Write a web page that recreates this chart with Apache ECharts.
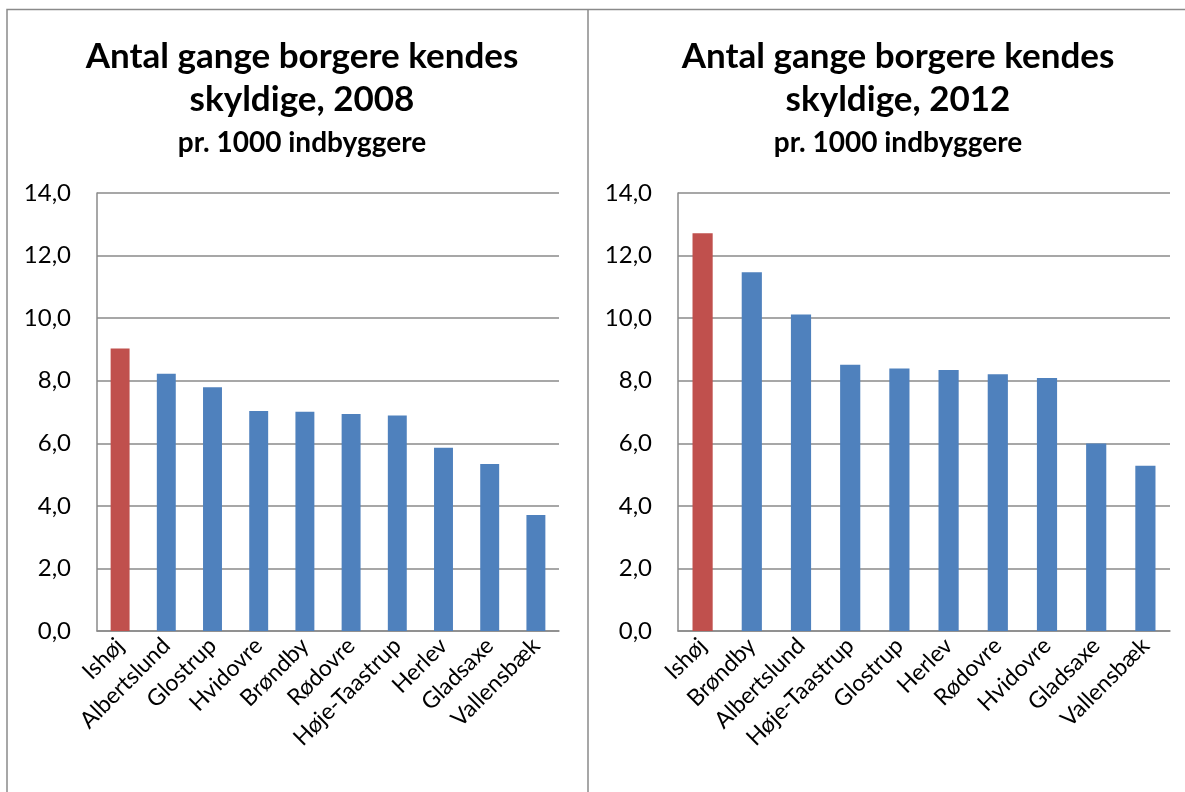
<!DOCTYPE html>
<html>
<head>
<meta charset="utf-8">
<script src="https://cdn.jsdelivr.net/npm/echarts@6/dist/echarts.min.js"></script>
<style>
  html, body { margin: 0; padding: 0; background: #fff; }
  #container { width: 1185px; height: 792px; }
</style>
</head>
<body>
<div id="container"></div>
<script>
var cat2008 = ['Ishøj', 'Albertslund', 'Glostrup', 'Hvidovre', 'Brøndby', 'Rødovre', 'Høje-Taastrup', 'Herlev', 'Gladsaxe', 'Vallensbæk'];
var val2008 = [9.03, 8.22, 7.79, 7.03, 7.01, 6.94, 6.89, 5.86, 5.34, 3.71];
var cat2012 = ['Ishøj', 'Brøndby', 'Albertslund', 'Høje-Taastrup', 'Glostrup', 'Herlev', 'Rødovre', 'Hvidovre', 'Gladsaxe', 'Vallensbæk'];
var val2012 = [12.71, 11.47, 10.12, 8.51, 8.39, 8.34, 8.21, 8.09, 5.99, 5.28];
var highlight = 'Ishøj';

var dom = document.getElementById('container');
var myChart = echarts.init(dom);
var font = 'Lato';
var gridColor = '#8a8a8a';

function barData(cats, vals) {
    return vals.map(function (v, i) {
        return {
            value: v,
            itemStyle: { color: cats[i] === highlight ? '#C0504D' : '#4F81BD' }
        };
    });
}

function xAxisOf(idx, cats) {
    return {
        type: 'category',
        gridIndex: idx,
        data: cats,
        axisTick: { show: false },
        axisLine: { lineStyle: { color: gridColor, width: 1.5 } },
        axisLabel: { rotate: 45, interval: 0, margin: 11, fontFamily: font, fontSize: 23, color: '#000' }
    };
}

function yAxisOf(idx, margin) {
    return {
        type: 'value',
        gridIndex: idx,
        min: 0,
        max: 14,
        interval: 2,
        axisTick: { show: false },
        axisLine: { show: true, lineStyle: { color: gridColor, width: 1.5 } },
        splitLine: { lineStyle: { color: gridColor, width: 1.5 } },
        axisLabel: {
            margin: margin, fontFamily: font, fontSize: 24, color: '#000',
            formatter: function (v) { return v.toFixed(1).replace('.', ','); }
        }
    };
}

function titleOf(x, text, sub) {
    return [
        {
            text: text, left: x, top: 30, textAlign: 'center',
            textStyle: { fontFamily: font, fontSize: 35, fontWeight: 'bold', lineHeight: 43, color: '#000' }
        },
        {
            text: sub, left: x, top: 123, textAlign: 'center',
            textStyle: { fontFamily: font, fontSize: 28, fontWeight: 'bold', lineHeight: 30, color: '#000' }
        }
    ];
}

var option = {
    animation: false,
    title: titleOf(297, 'Antal gange borgere kendes\nskyldige, 2008', 'pr. 1000 indbyggere')
        .concat(titleOf(893, 'Antal gange borgere kendes\nskyldige, 2012', 'pr. 1000 indbyggere')),
    grid: [
        { left: 97, right: 626, top: 193, bottom: 161 },
        { left: 678, right: 15, top: 193, bottom: 161 }
    ],
    xAxis: [xAxisOf(0, cat2008), xAxisOf(1, cat2012)],
    yAxis: [yAxisOf(0, 26), yAxisOf(1, 26)],
    series: [
        { type: 'bar', xAxisIndex: 0, yAxisIndex: 0, barWidth: '41%', data: barData(cat2008, val2008) },
        { type: 'bar', xAxisIndex: 1, yAxisIndex: 1, barWidth: '41%', data: barData(cat2012, val2012) }
    ],
    graphic: [
        { type: 'polyline', shape: { points: [[7, 800], [7, 9.5], [1190, 9.5]] }, style: { stroke: gridColor, lineWidth: 1.5, fill: null } },
        { type: 'line', shape: { x1: 588, y1: 9.5, x2: 588, y2: 800 }, style: { stroke: gridColor, lineWidth: 1.5 } }
    ]
};

myChart.setOption(option);
</script>
</body>
</html>
